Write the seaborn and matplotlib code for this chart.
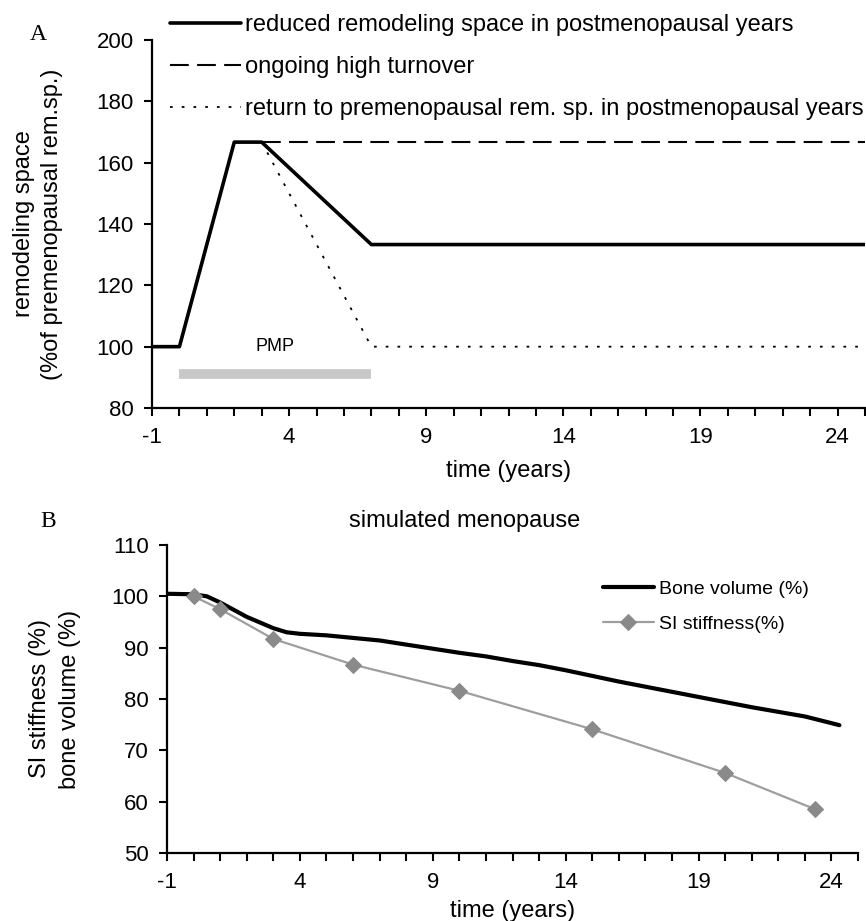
import matplotlib
matplotlib.use("Agg")
import matplotlib.pyplot as plt
import numpy as np
import seaborn as sns

# ─── Panel A: remodeling space ─────────────────────────────────────────────
reduced_x = [-1, 0, 2, 3, 7, 25]
reduced_y = [100, 100, 166.7, 166.7, 133.3, 133.3]
high_x = [3, 25]
high_y = [166.7, 166.7]
return_x = [3, 7, 25]
return_y = [166.7, 100, 100]
pmp_x = [0, 7]
pmp_y = [91, 91]

# ─── Panel B: simulated menopause ──────────────────────────────────────────
bone_x = [-1, 0, 0.5, 1, 2, 3, 3.5, 4, 5, 6, 7, 8, 9, 10, 11, 12, 13, 14,
          15, 16, 17, 18, 19, 20, 21, 22, 23, 24, 24.3]
bone_y = [100.5, 100.4, 100.0, 98.8, 96.0, 93.8, 93.0, 92.7, 92.4, 91.9,
          91.4, 90.6, 89.8, 89.0, 88.3, 87.4, 86.6, 85.6, 84.5, 83.4, 82.4,
          81.4, 80.4, 79.4, 78.4, 77.5, 76.6, 75.3, 74.9]
stiff_x = [0, 1, 3, 6, 10, 15, 20, 23.4]
stiff_y = [100.0, 97.5, 91.7, 86.7, 81.6, 74.1, 65.6, 58.5]

sns.set_theme(style="ticks")
plt.rcParams["font.family"] = ["Liberation Sans", "DejaVu Sans"]
plt.rcParams["axes.edgecolor"] = "black"
plt.rcParams["axes.linewidth"] = 1.6
plt.rcParams["axes.unicode_minus"] = False
plt.rcParams["xtick.color"] = "black"
plt.rcParams["ytick.color"] = "black"
plt.rcParams["text.color"] = "black"
plt.rcParams["axes.labelcolor"] = "black"

fig = plt.figure(figsize=(8.66, 9.21), dpi=100)

W, H = 866, 921


def px_axes(left, top, right, bottom):
    return fig.add_axes([left / W, 1 - bottom / H, (right - left) / W, (bottom - top) / H])


def style_axes(ax, xlim, ylim, yticks):
    sns.despine(ax=ax)
    ax.set_xlim(*xlim)
    ax.set_ylim(*ylim)
    ax.set_yticks(yticks)
    ax.set_xticks(np.arange(-1, 25, 5))
    ax.set_xticks(np.arange(-1, 26, 1), minor=True)
    ax.tick_params(which="both", length=6, width=1.5, direction="out", labelsize=16)
    ax.tick_params(axis="y", pad=7)
    ax.tick_params(axis="x", pad=8)


# Panel A
ax1 = px_axes(152, 40, 865, 408)
sns.lineplot(x=reduced_x, y=reduced_y, ax=ax1, color="black", lw=2.6,
             label="reduced remodeling space in postmenopausal years")
sns.lineplot(x=high_x, y=high_y, ax=ax1, color="black", lw=1.5,
             label="ongoing high turnover")
ax1.lines[-1].set_dashes([9, 4])
sns.lineplot(x=return_x, y=return_y, ax=ax1, color="black", lw=1.3,
             label="return to premenopausal rem. sp. in postmenopausal years")
ax1.lines[-1].set_dashes([1.5, 5])
ax1.plot(pmp_x, pmp_y, color="#c8c8c8", lw=7, solid_capstyle="butt")
ax1.text(3.5, 100, "PMP", ha="center", va="center", fontsize=13)
style_axes(ax1, (-1, 25), (80, 200), np.arange(80, 201, 20))
ax1.set_xlabel("time (years)", fontsize=17, labelpad=8)
ax1.set_ylabel("remodeling space\n(%of premenopausal rem.sp.)", fontsize=17,
               labelpad=24, linespacing=1.4)
ax1.legend(loc="upper left", bbox_to_anchor=(0.025, 1.07), frameon=False,
           fontsize=17, handlelength=3.0, handletextpad=0.2, labelspacing=0.85,
           borderpad=0, borderaxespad=0)
fig.text(38 / W, 1 - 34 / H, "A", family="Liberation Serif", fontsize=17,
         ha="center", va="center")

# Panel B
ax2 = px_axes(167, 545, 858, 853)
sns.lineplot(x=bone_x, y=bone_y, ax=ax2, color="black", lw=3,
             label="Bone volume (%)")
sns.lineplot(x=stiff_x, y=stiff_y, ax=ax2, color="#9e9e9e", lw=1.6,
             marker="D", markersize=8, markerfacecolor="#8a8a8a",
             markeredgecolor="#8a8a8a", label="SI stiffness(%)")
style_axes(ax2, (-1, 25), (50, 110), np.arange(50, 111, 10))
ax2.set_xlabel("time (years)", fontsize=17, labelpad=5)
ax2.set_ylabel("SI stiffness (%)\nbone volume (%)", fontsize=17, labelpad=22,
               linespacing=1.5)
ax2.legend(loc="upper left", bbox_to_anchor=(0.631, 0.885), frameon=False,
           fontsize=14, handlelength=2.6, handletextpad=0.3, labelspacing=0.9,
           borderpad=0, borderaxespad=0)
fig.text(48 / W, 1 - 521 / H, "B", family="Liberation Serif", fontsize=17,
         ha="center", va="center")
fig.text(465 / W, 1 - 521 / H, "simulated menopause", fontsize=17,
         ha="center", va="center")

fig.savefig("out.png", dpi=100)
